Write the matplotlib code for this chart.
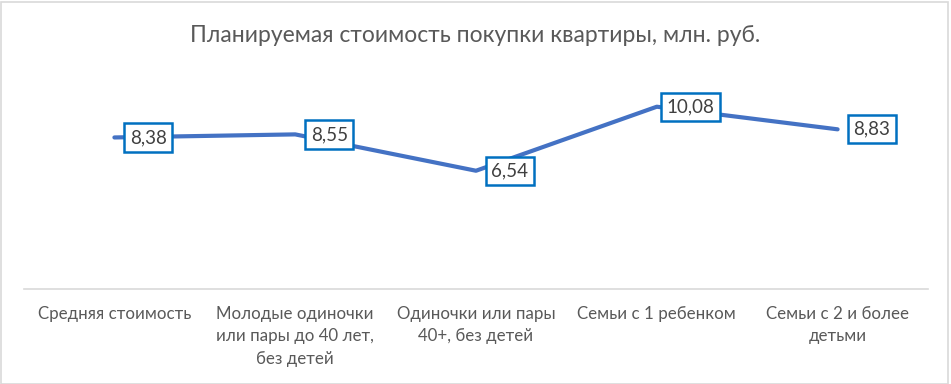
import matplotlib
matplotlib.use("Agg")
import matplotlib.pyplot as plt
from matplotlib.patches import Rectangle

categories = ["Средняя стоимость",
              "Молодые одиночки\nили пары до 40 лет,\nбез детей",
              "Одиночки или пары\n40+, без детей",
              "Семьи с 1 ребенком",
              "Семьи с 2 и более\nдетьми"]
values = [8.38, 8.55, 6.54, 10.08, 8.83]
title = "Планируемая стоимость покупки квартиры, млн. руб."

plt.rcParams['font.family'] = ['Lato', 'DejaVu Sans']

W, H = 951, 384
fig = plt.figure(figsize=(W/100, H/100), dpi=100)
fig.patches.append(Rectangle((0.5/W, 0.5/H), 1-3.5/W, 1-2/H, transform=fig.transFigure,
                             fill=False, edgecolor='#d9d9d9', linewidth=1.2))
ax = fig.add_axes([24/W, (H-289)/H, 904/W, (289-72)/H])
x = list(range(len(categories)))
ax.plot(x, values, color='#4472C4', linewidth=3.0, solid_capstyle='round', solid_joinstyle='round')
ax.set_xlim(-0.5, 4.5)
ax.set_ylim(0, 12)
for s in ['top', 'right', 'left']:
    ax.spines[s].set_visible(False)
ax.spines['bottom'].set_color('#d9d9d9')
ax.spines['bottom'].set_linewidth(1.2)
ax.set_yticks([])
ax.set_xticks(x)
ax.set_xticklabels(categories, fontsize=12.2, color='#595959', linespacing=1.5, va='top')
ax.tick_params(axis='x', length=0, pad=12)

for xi, v in zip(x, values):
    ax.annotate(f"{v:.2f}".replace('.', ','), (xi, v), xytext=(34, 0), textcoords='offset pixels',
                ha='center', va='center', fontsize=13.5, color='#404040',
                bbox=dict(boxstyle='square,pad=0.3', facecolor='white', edgecolor='#0070C0', linewidth=1.8))

fig.text(475/W, 1-35/H, title, ha='center', va='center', fontsize=16.5, color='#595959')
fig.savefig("out.png", dpi=100)
